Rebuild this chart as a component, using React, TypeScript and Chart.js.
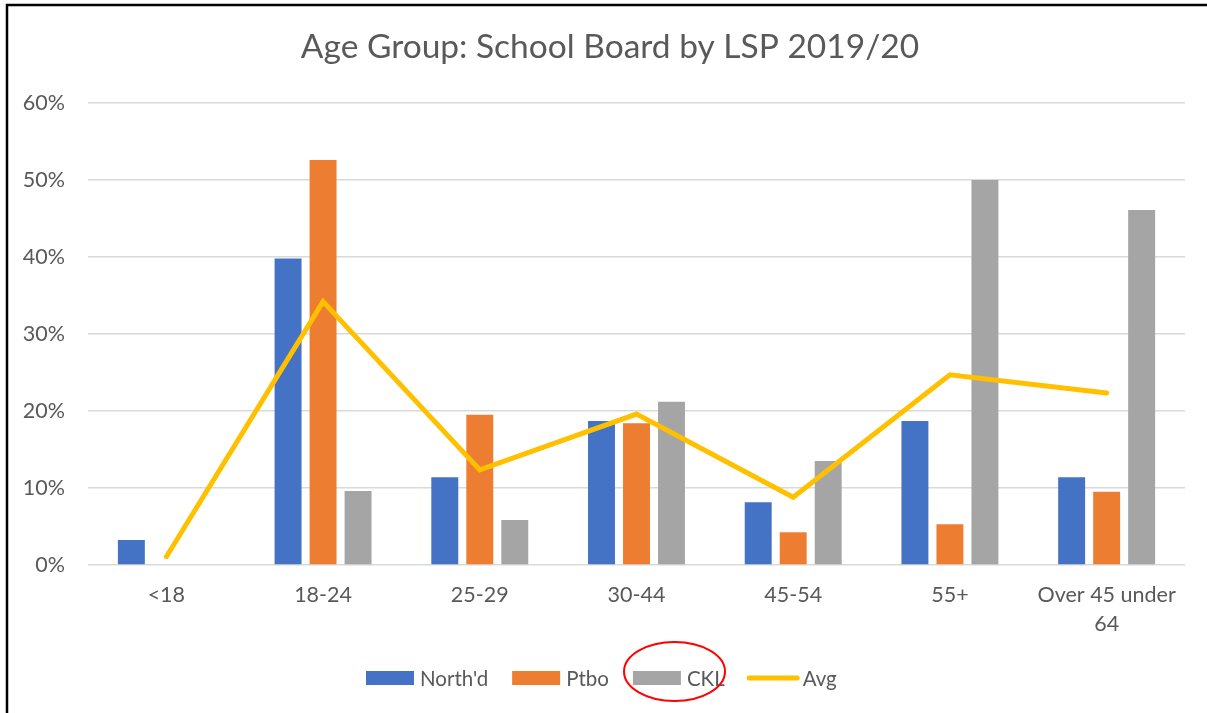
import React, { useEffect, useRef } from "react";
import { Chart, registerables } from "chart.js";

Chart.register(...registerables);

const categories: (string | string[])[] = ["<18", "18-24", "25-29", "30-44", "45-54", "55+", ["Over 45 under", "64"]];
const northd = [0.0325, 0.398, 0.114, 0.187, 0.0815, 0.187, 0.114];
const ptbo = [0, 0.526, 0.195, 0.184, 0.0425, 0.053, 0.095];
const ckl = [0, 0.096, 0.0585, 0.212, 0.135, 0.5, 0.461];
const avg = [0.0108, 0.342, 0.1235, 0.196, 0.088, 0.247, 0.2235];
const yTicks = [0, 0.1, 0.2, 0.3, 0.4, 0.5, 0.6];
const title = "Age Group: School Board by LSP 2019/20";

const FONT = "Lato";
const TEXT = "#595959";

const decor = {
  id: "decor",
  afterDraw(chart: any) {
    const ctx = chart.ctx as CanvasRenderingContext2D;
    ctx.save();
    // title
    ctx.fillStyle = TEXT;
    ctx.font = `33.5px ${FONT}`;
    ctx.textAlign = "center";
    ctx.textBaseline = "alphabetic";
    ctx.fillText(title, 610, 58);

    // legend
    ctx.font = `20.5px ${FONT}`;
    ctx.textAlign = "left";
    ctx.textBaseline = "middle";
    const items = chart.data.datasets.map((d: any) => ({
      label: d.label,
      color: d.type === "line" ? d.borderColor : d.backgroundColor,
      line: d.type === "line",
    }));
    const boxW = 48, gapT = 6, gapI = 24;
    let x = 366;
    const cy = 678;
    items.forEach((it: any) => {
      if (it.line) {
        x -= 2;
        ctx.strokeStyle = it.color;
        ctx.lineWidth = 5;
        ctx.lineCap = "round";
        ctx.beginPath();
        ctx.moveTo(x + 2.5, cy);
        ctx.lineTo(x + 50.5, cy);
        ctx.stroke();
        x += 56;
      } else {
        ctx.fillStyle = it.color;
        ctx.fillRect(x, cy - 7, boxW, 14);
        x += boxW + gapT;
      }
      ctx.fillStyle = TEXT;
      ctx.fillText(it.label, x, cy + 1);
      x += ctx.measureText(it.label).width + gapI;
    });

    // red annotation ellipse
    ctx.strokeStyle = "#FF0000";
    ctx.lineWidth = 2;
    ctx.beginPath();
    ctx.ellipse(674.5, 671.5, 50.5, 29.5, 0, 0, Math.PI * 2);
    ctx.stroke();

    // frame
    ctx.strokeStyle = "#000000";
    ctx.lineWidth = 2.5;
    ctx.lineCap = "butt";
    ctx.beginPath();
    ctx.moveTo(7, 713);
    ctx.lineTo(7, 5);
    ctx.lineTo(1207, 5);
    ctx.stroke();
    ctx.restore();
  },
};

export default function App() {
  const ref = useRef<HTMLCanvasElement>(null);
  useEffect(() => {
    if (!ref.current) return;
    const chart = new Chart(ref.current, {
      type: "bar",
      data: {
        labels: categories as any,
        datasets: [
          { label: "North'd", data: northd, backgroundColor: "#4472C4", order: 2 } as any,
          { label: "Ptbo", data: ptbo, backgroundColor: "#ED7D31", order: 2 } as any,
          { label: "CKL", data: ckl, backgroundColor: "#A5A5A5", order: 2 } as any,
          {
            type: "line",
            label: "Avg",
            data: avg,
            borderColor: "#FFC000",
            backgroundColor: "#FFC000",
            borderWidth: 5,
            pointRadius: 0,
            pointHoverRadius: 0,
            tension: 0,
            borderCapStyle: "round",
            borderJoinStyle: "miter",
            order: 0,
          } as any,
        ],
      },
      options: {
        responsive: false,
        animation: false,
        events: [],
        layout: { padding: { top: 103, right: 22, left: 0, bottom: 0 } },
        datasets: { bar: { categoryPercentage: 0.67, barPercentage: 0.77 } } as any,
        plugins: {
          legend: { display: false },
          title: { display: false },
          tooltip: { enabled: false },
        },
        scales: {
          x: {
            grid: { display: false, drawTicks: false },
            border: { display: false },
            ticks: {
              color: TEXT,
              font: { family: FONT, size: 21.5, lineHeight: 1.36 },
              padding: 15,
              maxRotation: 0,
              autoSkip: false,
            },
            afterFit(scale: any) {
              scale.height = 148;
            },
          },
          y: {
            min: 0,
            max: 0.6,
            grid: { color: "#D9D9D9", lineWidth: 1.5, drawTicks: false },
            border: { display: false },
            afterBuildTicks(scale: any) {
              scale.ticks = yTicks.map((v) => ({ value: v }));
            },
            ticks: {
              color: TEXT,
              font: { family: FONT, size: 21.5 },
              padding: 23,
              callback: (v: any) => `${Math.round(Number(v) * 100)}%`,
            },
            afterFit(scale: any) {
              scale.width = 88;
            },
          },
        },
      },
      plugins: [decor],
    });
    return () => chart.destroy();
  }, []);
  return (
    <div style={{ position: "fixed", left: 0, top: 0, width: 1207, height: 713, background: "#fff" }}>
      <canvas ref={ref} width={1207} height={713} style={{ display: "block" }} />
    </div>
  );
}
